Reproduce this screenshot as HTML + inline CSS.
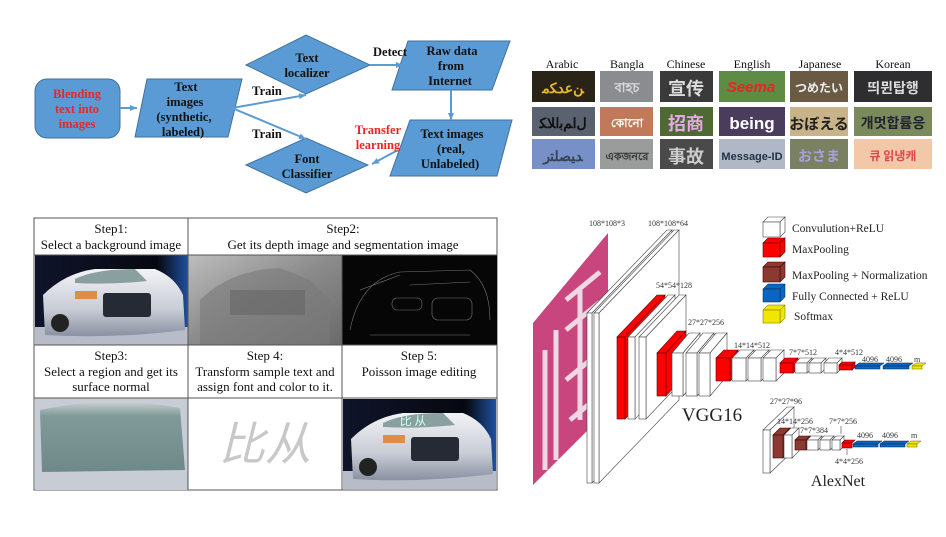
<!DOCTYPE html>
<html><head><meta charset="utf-8"><style>
html,body{margin:0;padding:0;background:#fff;}
svg{display:block;}
.b{font-family:"Liberation Serif",serif;font-weight:bold;font-size:12.5px;text-anchor:middle;fill:#111;}
.r{fill:#e8262a;}
.s{font-family:"Liberation Serif",serif;font-size:13px;text-anchor:middle;fill:#111;}
.l{font-family:"Liberation Serif",serif;font-size:8px;fill:#333;}
.g{font-family:"Liberation Serif",serif;font-size:11.5px;fill:#222;}
.w{fill:#fff;stroke:#444;stroke-width:.6;}
.rd{fill:#f00;stroke:#600;stroke-width:.6;}
.br{fill:#8b3a32;stroke:#400;stroke-width:.6;}
.bl{fill:#0a66c2;stroke:#024;stroke-width:.5;}
.ye{fill:#f2e600;stroke:#660;stroke-width:.5;}
</style></head><body>
<svg width="946" height="537" viewBox="0 0 946 537" xmlns="http://www.w3.org/2000/svg">
<defs>
<marker id="ar" markerWidth="8" markerHeight="8" refX="7" refY="4" orient="auto" markerUnits="userSpaceOnUse"><path d="M0,1 L7,4 L0,7 z" fill="#5b9bd5"/></marker>
<linearGradient id="dep" x1="0" y1="0" x2="1" y2="1"><stop offset="0" stop-color="#bdbdbd"/><stop offset=".5" stop-color="#8a8a8a"/><stop offset="1" stop-color="#6a6a6a"/></linearGradient>
<linearGradient id="bg" x1="0" y1="0" x2="1" y2="0"><stop offset="0" stop-color="#10142a"/><stop offset=".8" stop-color="#060810"/><stop offset="1" stop-color="#2050a0"/></linearGradient>
<linearGradient id="body" x1="0" y1="0" x2="0" y2="1"><stop offset="0" stop-color="#f2f3f6"/><stop offset=".6" stop-color="#c8ccd6"/><stop offset="1" stop-color="#8a90a0"/></linearGradient>
<linearGradient id="win" x1="0" y1="0" x2="0" y2="1"><stop offset="0" stop-color="#c8d0d0"/><stop offset=".2" stop-color="#7f9a98"/><stop offset="1" stop-color="#6e8a88"/></linearGradient>
<g id="carimg">
<rect x="0" y="0" width="153" height="90" fill="url(#bg)"/>
<rect x="0" y="72" width="153" height="18" fill="#b8bcc8"/>
<path d="M8,40 Q30,18 60,14 L120,14 Q140,22 148,40 L150,75 Q80,84 10,80 Z" fill="url(#body)"/>
<path d="M40,24 Q60,14 100,14 L112,26 Q75,30 40,28 Z" fill="#8aa0a0"/>
<rect x="68" y="38" width="48" height="24" rx="3" fill="#262a34"/>
<rect x="40" y="36" width="22" height="8" fill="#e07a20" opacity=".8"/>
<circle cx="25" cy="68" r="9" fill="#222"/>
</g>
</defs>

<!-- Flowchart -->
<g stroke="#41719c" stroke-width="1" fill="#5b9bd5">
<rect x="35" y="79" width="85" height="59" rx="12"/>
<polygon points="147,79 242,79 228,137 135,137"/>
<polygon points="246,65 306,35 370,65 306,94"/>
<polygon points="246,165 306,138 368,165 306,193"/>
<polygon points="408,41 510,41 492,90 392,90"/>
<polygon points="410,120 512,120 497,176 390,176"/>
</g>
<g stroke="#5b9bd5" stroke-width="2" fill="none" marker-end="url(#ar)">
<line x1="120" y1="108" x2="137" y2="108"/>
<line x1="232" y1="108" x2="306" y2="95"/>
<line x1="232" y1="108" x2="306" y2="139"/>
<line x1="370" y1="65" x2="403" y2="65"/>
<line x1="451" y1="90" x2="451" y2="120"/>
<line x1="398" y1="150" x2="372" y2="164"/>
</g>
<text class="b r" x="77" y="98">Blending</text>
<text class="b r" x="77" y="113">text into</text>
<text class="b r" x="77" y="128">images</text>
<text class="b" x="186" y="91">Text</text>
<text class="b" x="185" y="106">images</text>
<text class="b" x="184" y="121">(synthetic,</text>
<text class="b" x="183" y="136">labeled)</text>
<text class="b" x="307" y="62">Text</text>
<text class="b" x="307" y="77">localizer</text>
<text class="b" x="307" y="163">Font</text>
<text class="b" x="307" y="178">Classifier</text>
<text class="b" x="267" y="95">Train</text>
<text class="b" x="267" y="138">Train</text>
<text class="b" x="390" y="56">Detect</text>
<text class="b" x="452" y="55">Raw data</text>
<text class="b" x="451" y="70">from</text>
<text class="b" x="450" y="85">Internet</text>
<text class="b" x="452" y="138">Text images</text>
<text class="b" x="451" y="153">(real,</text>
<text class="b" x="450" y="168">Unlabeled)</text>
<text class="b r" x="378" y="134">Transfer</text>
<text class="b r" x="378" y="149">learning</text>

<!-- script grid -->
<g class="s" style="font-size:12px">
<text x="562" y="68">Arabic</text><text x="627" y="68">Bangla</text><text x="686" y="68">Chinese</text>
<text x="752" y="68">English</text><text x="820" y="68">Japanese</text><text x="893" y="68">Korean</text>
</g>
<rect x="532" y="71" width="63" height="31" fill="#2a2418"/>
<rect x="600" y="71" width="53" height="31" fill="#8a8c90"/>
<rect x="660" y="71" width="53" height="31" fill="#3a3a3a"/>
<rect x="719" y="71" width="66" height="31" fill="#5f8c44"/>
<rect x="790" y="71" width="58" height="31" fill="#6a5a44"/>
<rect x="854" y="71" width="78" height="31" fill="#2e2e30"/>
<rect x="532" y="107" width="63" height="29" fill="#5a6270"/>
<rect x="600" y="107" width="53" height="29" fill="#c07a5a"/>
<rect x="660" y="107" width="53" height="29" fill="#4e6a32"/>
<rect x="719" y="107" width="66" height="29" fill="#4a3c5c"/>
<rect x="790" y="107" width="58" height="29" fill="#c8b488"/>
<rect x="854" y="107" width="78" height="29" fill="#7a8a5a"/>
<rect x="532" y="139" width="63" height="30" fill="#7890c8"/>
<rect x="600" y="139" width="53" height="30" fill="#9a9c9c"/>
<rect x="660" y="139" width="53" height="30" fill="#4a4a4a"/>
<rect x="719" y="139" width="66" height="30" fill="#b0b8c8"/>
<rect x="790" y="139" width="58" height="30" fill="#7a8062"/>
<rect x="854" y="139" width="78" height="30" fill="#f2c8a8"/>
<g font-family="'Liberation Sans','Noto Sans CJK KR',sans-serif" font-weight="bold" text-anchor="middle">
<text x="563" y="93" font-size="14" fill="#e8b830">ﻦﻋﺪﻜﻣ</text>
<text x="627" y="92" font-size="13" fill="#ddd">বাহচ</text>
<text x="686" y="95" font-size="18" fill="#ddd" font-family="'Noto Sans CJK SC',sans-serif">宣传</text>
<text x="751" y="92" font-size="15" fill="#e22" font-style="italic">Seema</text>
<text x="819" y="92" font-size="12" fill="#eee" font-family="'Noto Sans CJK JP',sans-serif">つめたい</text>
<text x="893" y="93" font-size="14" fill="#ddd" font-family="'Noto Sans CJK KR',sans-serif">띄뮌탑행</text>
<text x="563" y="128" font-size="14" fill="#111">ﻝﺍﻢﺑﺍﻼﻜ</text>
<text x="627" y="127" font-size="12" fill="#fff">কোনো</text>
<text x="686" y="130" font-size="18" fill="#e6a8e8" font-family="'Noto Sans CJK SC',sans-serif">招商</text>
<text x="752" y="129" font-size="17" fill="#fff">being</text>
<text x="819" y="129" font-size="15" fill="#222" font-family="'Noto Sans CJK JP',sans-serif">おぼえる</text>
<text x="893" y="128" font-size="14" fill="#223" font-family="'Noto Sans CJK KR',sans-serif">개멋합륨응</text>
<text x="563" y="161" font-size="14" fill="#345">ﺪﻴﺼﻠﺘﺭ</text>
<text x="627" y="160" font-size="11" fill="#333">একজনরে</text>
<text x="686" y="163" font-size="18" fill="#ccc" font-family="'Noto Sans CJK SC',sans-serif">事故</text>
<text x="752" y="160" font-size="11" fill="#234">Message-ID</text>
<text x="819" y="161" font-size="14" fill="#a8a0d8" font-family="'Noto Sans CJK JP',sans-serif">おさま</text>
<text x="893" y="160" font-size="12" fill="#d84a4a" font-family="'Noto Sans CJK KR',sans-serif">큐 읽냉캐</text>
</g>

<!-- Steps table -->
<rect x="34" y="218" width="463" height="272" fill="#fff" stroke="#555" stroke-width="1"/>
<use href="#carimg" x="35" y="255"/>
<rect x="188" y="255" width="154" height="90" fill="url(#dep)"/>
<path d="M200,300 Q230,270 280,268 L310,280 L330,300 L330,345 L200,345 Z" fill="#7a7a7a" opacity=".6"/>
<rect x="230" y="290" width="75" height="25" fill="#666" opacity=".6"/>
<rect x="342" y="255" width="155" height="90" fill="#060606"/>
<g stroke="#777" stroke-width=".6" fill="none">
<path d="M350,330 Q360,280 400,272 L470,270 Q490,285 490,320"/>
<rect x="392" y="298" width="30" height="12" rx="5"/><rect x="432" y="298" width="40" height="22" rx="6"/>
<path d="M370,335 L470,335 M360,290 L400,275 M410,285 L470,282"/>
</g>
<rect x="35" y="398" width="153" height="92" fill="#c8ccd4"/>
<path d="M40,410 Q110,395 180,408 L185,470 L42,472 Z" fill="url(#win)"/>
<text x="265" y="460" font-family="'Noto Sans CJK SC',sans-serif" font-size="46" fill="#c8c8c8" font-style="italic" text-anchor="middle">比从</text>
<use href="#carimg" x="343" y="399"/>
<text x="413" y="425" font-family="'Noto Sans CJK SC',sans-serif" font-size="12" fill="#cfe" text-anchor="middle">比 从</text>
<g stroke="#555" stroke-width="1">
<line x1="34" y1="255" x2="497" y2="255"/><line x1="34" y1="345" x2="497" y2="345"/><line x1="34" y1="398" x2="497" y2="398"/>
<line x1="188" y1="218" x2="188" y2="490"/><line x1="342" y1="255" x2="342" y2="490"/>
</g>
<text class="s" x="111" y="233">Step1:</text>
<text class="s" x="111" y="249">Select a background image</text>
<text class="s" x="343" y="233">Step2:</text>
<text class="s" x="343" y="249">Get its depth image  and segmentation image</text>
<text class="s" x="111" y="360">Step3:</text>
<text class="s" x="111" y="376">Select a region and get its</text>
<text class="s" x="111" y="391">surface normal</text>
<text class="s" x="265" y="360">Step 4:</text>
<text class="s" x="265" y="376">Transform sample text and</text>
<text class="s" x="265" y="391">assign font and color to it.</text>
<text class="s" x="419" y="360">Step 5:</text>
<text class="s" x="419" y="376">Poisson image editing</text>

<!-- Network -->
<polygon points="533,323 608,233 608,410 533,485" fill="#c9457e"/>
<g stroke="#f2e8ee" stroke-width="5" fill="none" opacity=".9">
<line x1="545" y1="350" x2="545" y2="470"/><line x1="556" y1="330" x2="556" y2="460"/>
<line x1="566" y1="300" x2="600" y2="272"/><line x1="566" y1="330" x2="600" y2="302"/>
<line x1="580" y1="290" x2="580" y2="420"/><line x1="566" y1="380" x2="600" y2="352"/>
<line x1="570" y1="420" x2="600" y2="395"/>
</g>
<g class="w">
<polygon points="587,313 667,230 672,230 592,313"/><polygon points="592,313 672,230 672,400 592,483"/><rect x="587" y="313" width="5" height="170"/>
<polygon points="594,313 674,230 679,230 599,313"/><polygon points="599,313 679,230 679,400 599,483"/><rect x="594" y="313" width="5" height="170"/>
</g>
<g class="rd"><polygon points="617,337 657,295 665,295 625,337"/><polygon points="625,337 665,295 665,377 625,419"/><rect x="617" y="337" width="8" height="82"/></g>
<g class="w"><polygon points="628,337 668,295 675,295 635,337"/><polygon points="635,337 675,295 675,377 635,419"/><rect x="628" y="337" width="7" height="82"/>
<polygon points="639,337 679,295 686,295 646,337"/><polygon points="646,337 686,295 686,377 646,419"/><rect x="639" y="337" width="7" height="82"/></g>
<g class="rd"><polygon points="657,353 677,331 686,331 666,353"/><polygon points="666,353 686,331 686,374 666,396"/><rect x="657" y="353" width="9" height="43"/></g>
<g class="w">
<polygon points="672,353 689,333 700,333 683,353"/><polygon points="683,353 700,333 700,376 683,396"/><rect x="672" y="353" width="11" height="43"/>
<polygon points="686,353 703,333 714,333 697,353"/><polygon points="697,353 714,333 714,376 697,396"/><rect x="686" y="353" width="11" height="43"/>
<polygon points="699,353 716,333 727,333 710,353"/><polygon points="710,353 727,333 727,376 710,396"/><rect x="699" y="353" width="11" height="43"/>
</g>
<g class="rd"><polygon points="716,358 724,350 738,350 730,358"/><polygon points="730,358 738,350 738,373 730,381"/><rect x="716" y="358" width="14" height="23"/></g>
<g class="w">
<polygon points="732,358 740,350 754,350 746,358"/><polygon points="746,358 754,350 754,373 746,381"/><rect x="732" y="358" width="14" height="23"/>
<polygon points="748,358 756,350 769,350 761,358"/><polygon points="761,358 769,350 769,373 761,381"/><rect x="748" y="358" width="13" height="23"/>
<polygon points="763,358 771,350 784,350 776,358"/><polygon points="776,358 784,350 784,373 776,381"/><rect x="763" y="358" width="13" height="23"/>
</g>
<g class="rd"><polygon points="780,363 785,358 798,358 793,363"/><polygon points="793,363 798,358 798,368 793,373"/><rect x="780" y="363" width="13" height="10"/></g>
<g class="w">
<polygon points="795,363 800,358 812,358 807,363"/><polygon points="807,363 812,358 812,368 807,373"/><rect x="795" y="363" width="12" height="10"/>
<polygon points="809,363 814,358 826,358 821,363"/><polygon points="821,363 826,358 826,368 821,373"/><rect x="809" y="363" width="12" height="10"/>
<polygon points="824,363 829,358 842,358 837,363"/><polygon points="837,363 842,358 842,368 837,373"/><rect x="824" y="363" width="13" height="10"/>
</g>
<g class="rd"><polygon points="839,365 842,362 855,362 852,365"/><polygon points="852,365 855,362 855,367 852,370"/><rect x="839" y="365" width="13" height="5"/></g>
<g class="bl"><polygon points="855,366 859,363 884,363 880,366"/><rect x="855" y="366" width="25" height="3"/>
<polygon points="883,366 887,363 913,363 909,366"/><rect x="883" y="366" width="26" height="3"/></g>
<g class="ye"><polygon points="912,366 916,363 926,363 922,366"/><rect x="912" y="366" width="10" height="3"/></g>

<text class="l" x="589" y="226">108*108*3</text>
<text class="l" x="648" y="226">108*108*64</text>
<text class="l" x="656" y="288">54*54*128</text>
<text class="l" x="688" y="325">27*27*256</text>
<text class="l" x="734" y="348">14*14*512</text>
<text class="l" x="789" y="355">7*7*512</text>
<text class="l" x="835" y="355">4*4*512</text>
<text class="l" x="862" y="362">4096</text>
<text class="l" x="886" y="362">4096</text>
<text class="l" x="914" y="362">m</text>
<text x="712" y="421" font-family="'Liberation Serif',serif" font-size="19" fill="#222" text-anchor="middle">VGG16</text>

<!-- AlexNet -->
<g class="w"><polygon points="763,430 787,407 794,407 770,430"/><polygon points="770,430 794,407 794,450 770,473"/><rect x="763" y="430" width="7" height="43"/></g>
<g class="br"><polygon points="773,435 780,428 790,428 783,435"/><polygon points="783,435 790,428 790,451 783,458"/><rect x="773" y="435" width="10" height="23"/></g>
<g class="w"><polygon points="784,435 791,428 799,428 792,435"/><polygon points="792,435 799,428 799,451 792,458"/><rect x="784" y="435" width="8" height="23"/></g>
<g class="br"><polygon points="795,440 799,436 810,436 806,440"/><polygon points="806,440 810,436 810,446 806,450"/><rect x="795" y="440" width="11" height="10"/></g>
<g class="w">
<polygon points="807,440 811,436 822,436 818,440"/><polygon points="818,440 822,436 822,446 818,450"/><rect x="807" y="440" width="11" height="10"/>
<polygon points="820,440 824,436 834,436 830,440"/><polygon points="830,440 834,436 834,446 830,450"/><rect x="820" y="440" width="10" height="10"/>
<polygon points="832,440 836,436 844,436 840,440"/><polygon points="840,440 844,436 844,446 840,450"/><rect x="832" y="440" width="8" height="10"/>
</g>
<g class="rd"><polygon points="842,443 845,440 855,440 852,443"/><rect x="842" y="443" width="10" height="5"/></g>
<g class="bl"><polygon points="853,444 857,441 882,441 878,444"/><rect x="853" y="444" width="25" height="3"/>
<polygon points="880,444 884,441 909,441 905,444"/><rect x="880" y="444" width="25" height="3"/></g>
<g class="ye"><polygon points="907,444 911,441 921,441 917,444"/><rect x="907" y="444" width="10" height="3"/></g>
<line x1="841" y1="426" x2="841" y2="434" stroke="#444" stroke-width=".6"/>
<line x1="847" y1="449" x2="847" y2="455" stroke="#444" stroke-width=".6"/>
<text class="l" x="770" y="404">27*27*96</text>
<text class="l" x="777" y="424">14*14*256</text>
<text class="l" x="800" y="433">7*7*384</text>
<text class="l" x="829" y="424">7*7*256</text>
<text class="l" x="835" y="464">4*4*256</text>
<text class="l" x="857" y="438">4096</text>
<text class="l" x="882" y="438">4096</text>
<text class="l" x="911" y="438">m</text>
<text x="838" y="486" font-family="'Liberation Serif',serif" font-size="16" fill="#222" text-anchor="middle">AlexNet</text>

<!-- legend -->
<g class="w"><polygon points="763,222 768,217 785,217 780,222"/><polygon points="780,222 785,217 785,232 780,237"/><rect x="763" y="222" width="17" height="15"/></g>
<g class="rd"><polygon points="763,243 768,238 785,238 780,243"/><polygon points="780,243 785,238 785,252 780,257"/><rect x="763" y="243" width="17" height="14"/></g>
<g class="br"><polygon points="763,267 768,262 785,262 780,267"/><polygon points="780,267 785,262 785,277 780,282"/><rect x="763" y="267" width="17" height="15"/></g>
<g class="bl"><polygon points="763,289 768,284 785,284 780,289"/><polygon points="780,289 785,284 785,297 780,302"/><rect x="763" y="289" width="17" height="13"/></g>
<g class="ye"><polygon points="763,310 768,305 785,305 780,310"/><polygon points="780,310 785,305 785,318 780,323"/><rect x="763" y="310" width="17" height="13"/></g>
<text class="g" x="792" y="232">Convulution+ReLU</text>
<text class="g" x="792" y="253">MaxPooling</text>
<text class="g" x="792" y="279">MaxPooling + Normalization</text>
<text class="g" x="792" y="300">Fully Connected + ReLU</text>
<text class="g" x="794" y="320">Softmax</text>
</svg>
</body></html>
